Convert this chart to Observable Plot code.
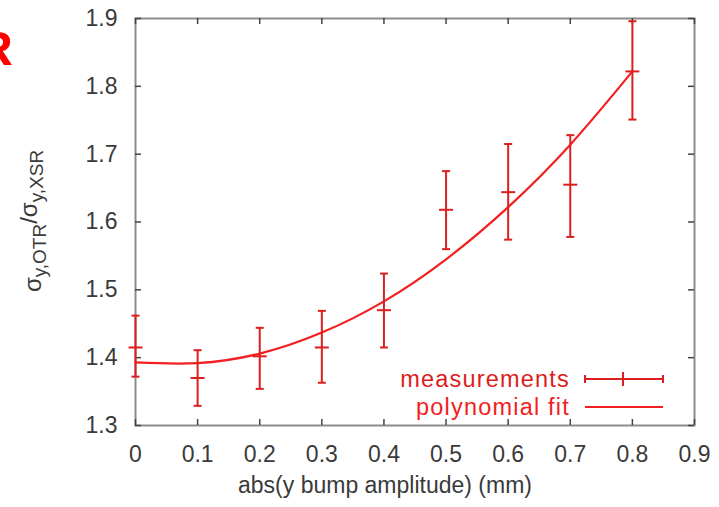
<!DOCTYPE html>
<html>
<head>
<meta charset="utf-8">
<script src="https://cdn.jsdelivr.net/npm/d3@7"></script>
<script src="https://cdn.jsdelivr.net/npm/@observablehq/plot@0.6"></script>
<style>
  html, body { margin: 0; padding: 0; background: #fff; }
  #chart { position: relative; width: 719px; height: 507px; overflow: hidden; }
</style>
</head>
<body>
<div id="chart"></div>
<script>
// ---- data ----
const xTicks = [0, 0.1, 0.2, 0.3, 0.4, 0.5, 0.6, 0.7, 0.8, 0.9];
const yTicks = [1.3, 1.4, 1.5, 1.6, 1.7, 1.8, 1.9];
const amplitude = [0, 0.1, 0.2, 0.3, 0.4, 0.5, 0.6, 0.7, 0.8];
const measured  = [1.415, 1.370, 1.402, 1.415, 1.470, 1.618, 1.644, 1.655, 1.822];
const errLow    = [1.372, 1.329, 1.354, 1.363, 1.415, 1.560, 1.574, 1.578, 1.751];
const errHigh   = [1.462, 1.411, 1.444, 1.469, 1.524, 1.675, 1.715, 1.728, 1.896];
const fitValues = [1.393, 1.392, 1.406, 1.437, 1.483, 1.545, 1.622, 1.714, 1.822];
const xLabel = "abs(y bump amplitude) (mm)";
const legendLabels = ["measurements", "polynomial fit"];

const meas = amplitude.map((x, i) => ({x, y: measured[i], lo: errLow[i], hi: errHigh[i]}));
const fit = amplitude.map((x, i) => ({x, y: fitValues[i]}));

const barColor = "#dc1e1e";
const fitColor = "#f22020";
const textColor = "#3a3a3a";
const font = "'Liberation Sans', Arial, Helvetica, sans-serif";

const hline = {draw(ctx, size) { const r = Math.sqrt(size / Math.PI); ctx.moveTo(-r, 0); ctx.lineTo(r, 0); }};

const W = 719, H = 507, mL = 135, mR = 25, mT = 18, mB = 82;
const fw = W - mL - mR, fh = H - mT - mB;

const svg = Plot.plot({
  width: W, height: H,
  marginLeft: mL, marginRight: mR, marginTop: mT, marginBottom: mB,
  style: {fontFamily: font, fontSize: "23px", color: textColor, background: "#fff", overflow: "visible"},
  x: {domain: [0, 0.9]},
  y: {domain: [1.3, 1.9]},
  marks: [
    Plot.frame({stroke: "#8c8c8c", strokeWidth: 2}),
    Plot.tickX(xTicks, {x: d => d, stroke: "#444", strokeWidth: 1.5, insetTop: fh - 6}),
    Plot.tickX(xTicks, {x: d => d, stroke: "#444", strokeWidth: 1.5, insetBottom: fh - 6}),
    Plot.tickY(yTicks, {y: d => d, stroke: "#444", strokeWidth: 1.5, insetRight: fw - 6}),
    Plot.tickY(yTicks, {y: d => d, stroke: "#444", strokeWidth: 1.5, insetLeft: fw - 6}),
    Plot.axisX({ticks: xTicks, tickSize: 0, tickPadding: 20, label: null,
      tickFormat: d => d === 0 ? "0" : d3.format(".1f")(d), fill: textColor}),
    Plot.axisY({ticks: yTicks, tickSize: 0, tickPadding: 18, label: null,
      tickFormat: d3.format(".1f"), fill: textColor}),
    Plot.text([xLabel], {text: d => d, frameAnchor: "bottom", lineAnchor: "bottom", dy: 67, dx: -30,
      fontSize: 23, fill: textColor}),
    Plot.line(fit, {x: "x", y: "y", curve: "natural", stroke: fitColor, strokeWidth: 2.2}),
    Plot.ruleX(meas, {x: "x", y1: "lo", y2: "hi", stroke: barColor, strokeWidth: 2}),
    Plot.dot(meas, {x: "x", y: "lo", symbol: hline, r: 4, stroke: barColor, strokeWidth: 2}),
    Plot.dot(meas, {x: "x", y: "hi", symbol: hline, r: 4, stroke: barColor, strokeWidth: 2}),
    Plot.dot(meas, {x: "x", y: "y", symbol: hline, r: 7, stroke: barColor, strokeWidth: 2})
  ]
});

const s = d3.select(svg);
// Y axis label with subscripts
const yl = s.append("text")
  .attr("transform", "translate(41,221) rotate(-90)")
  .attr("text-anchor", "middle")
  .attr("font-family", font)
  .attr("font-size", 24)
  .attr("fill", textColor);
yl.append("tspan").text("σ");
yl.append("tspan").attr("font-size", 19).attr("dy", 5).text("y,OTR");
yl.append("tspan").attr("dy", -9).text("/");
yl.append("tspan").text("σ");
yl.append("tspan").attr("font-size", 19).attr("dy", 6).text("y,XSR");

// Legend
const legX = 570, legLine0 = 585, legLine1 = 663;
const rows = [379, 407];
legendLabels.forEach((lab, i) => {
  s.append("text").attr("x", legX).attr("y", rows[i]).attr("dy", "0.33em")
    .attr("text-anchor", "end").attr("font-family", font).attr("font-size", 23.5)
    .attr("letter-spacing", "1.2px")
    .attr("fill", i === 0 ? barColor : fitColor).text(lab);
});
const g0 = s.append("g").attr("stroke", barColor).attr("stroke-width", 2);
g0.append("line").attr("x1", legLine0).attr("x2", legLine1).attr("y1", rows[0]).attr("y2", rows[0]);
[legLine0, legLine1].forEach(x => g0.append("line").attr("x1", x).attr("x2", x).attr("y1", rows[0] - 4).attr("y2", rows[0] + 4));
g0.append("line").attr("x1", 623).attr("x2", 623).attr("y1", rows[0] - 7).attr("y2", rows[0] + 7);
s.append("line").attr("x1", legLine0).attr("x2", legLine1).attr("y1", rows[1]).attr("y2", rows[1])
  .attr("stroke", fitColor).attr("stroke-width", 2.2);

// Cut-off red letter at the left edge (as in the reference)
s.append("text").attr("x", 13).attr("y", 65).attr("text-anchor", "end")
  .attr("font-family", font).attr("font-weight", "bold").attr("font-size", 49)
  .attr("fill", "#ff0000").text("R");

document.getElementById("chart").appendChild(svg);
</script>
</body>
</html>
